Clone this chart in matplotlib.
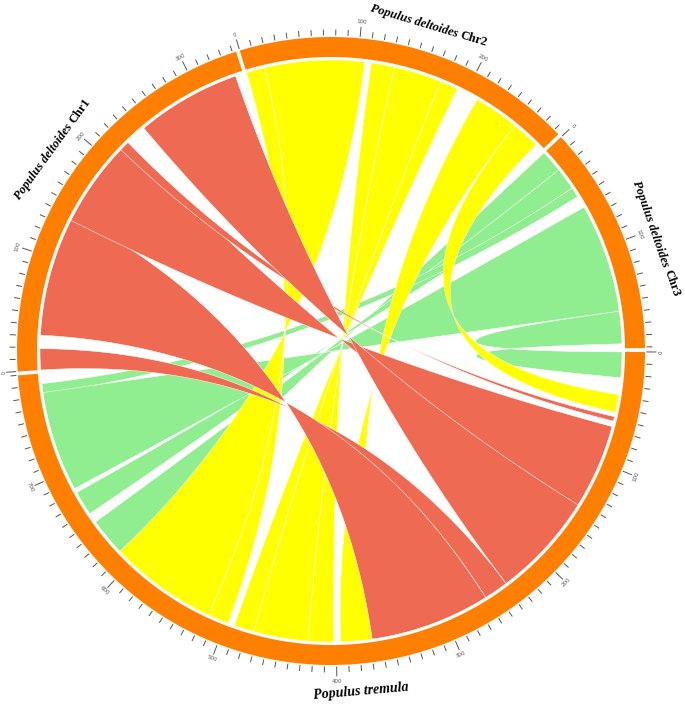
import numpy as np
import matplotlib
matplotlib.use("Agg")
import matplotlib.pyplot as plt
from matplotlib.patches import Polygon

# chromosomes, clockwise starting at the top
chrom_italic = ["Populus deltoides", "Populus deltoides", "Populus tremula", "Populus deltoides"]
chrom_suffix = ["Chr2", "Chr3", "", "Chr1"]
chrom_sizes = [285, 191, 790, 343]

# synteny links, positions on each chromosome (start, end);
# a reversed pair (end, start) on the tremula side gives an untwisted ribbon
# Chr1 -> P. tremula
red_src = [(0, 19), (31, 142), (137, 223), (214, 223), (242, 336)]
red_dst = [(238, 260), (260, 368), (67, 152), (58, 62), (143, 238)]
# Chr2 -> P. tremula
yellow_src = [(0, 17), (17, 106), (112, 133), (133, 176), (176, 192), (212, 253), (253, 278)]
yellow_dst = [(498, 517), (517, 614), (402, 425), (425, 474), (474, 492), (368, 396), (38, 54)]
# Chr3 -> P. tremula
green_src = [(0, 20), (20, 40), (40, 49), (60, 158), (158, 187)]
green_dst = [(614, 648), (657, 679), (781, 772), (683, 773), (0, 23)]

W, H = 685, 706
fig = plt.figure(figsize=(W / 100, H / 100), dpi=100)
ax = fig.add_axes([0, 0, 1, 1])
ax.set_xlim(0, W)
ax.set_ylim(H, 0)
ax.axis("off")

cx, cy = 331, 351
R_LINK, R_IN, R_OUT = 291, 294, 314
GAP = 0.7
START = -16.9
k = (360 - GAP * len(chrom_sizes)) / sum(chrom_sizes)
starts = []
a = START
for s in chrom_sizes:
    starts.append(a)
    a += s * k + GAP


def ang(ci, pos):
    return starts[ci] + pos * k


def xy(theta, r):
    t = np.radians(theta)
    return cx + r * np.sin(t), cy - r * np.cos(t)


def arc(a1, a2, r, n=60):
    th = np.linspace(a1, a2, n)
    x, y = xy(th, r)
    return np.column_stack([x, y])


def bez(a1, a2, n=80):
    p0 = np.array(xy(a1, R_LINK))
    p2 = np.array(xy(a2, R_LINK))
    c = np.array([cx, cy])
    t = np.linspace(0, 1, n)[:, None]
    return (1 - t) ** 2 * p0 + 2 * t * (1 - t) * c + t ** 2 * p2


def ribbon(ci, src, cj, dst, color):
    a1, a2 = ang(ci, src[0]), ang(ci, src[1])
    b1, b2 = ang(cj, dst[0]), ang(cj, dst[1])
    pts = np.vstack([arc(a1, a2, R_LINK), bez(a2, b2), arc(b2, b1, R_LINK), bez(b1, a1)])
    ax.add_patch(Polygon(pts, closed=True, facecolor=color, edgecolor="white", lw=0.35))


for s, d in zip(green_src, green_dst):
    ribbon(1, s, 2, d, "#90EE90")
for s, d in zip(yellow_src, yellow_dst):
    ribbon(0, s, 2, d, "#FFFF00")
for s, d in zip(red_src, red_dst):
    ribbon(3, s, 2, d, "#EE6A52")

# ideogram ring, ticks and labels
for ci, size in enumerate(chrom_sizes):
    a1, a2 = ang(ci, 0), ang(ci, size)
    ring = np.vstack([arc(a1, a2, R_OUT, 200), arc(a2, a1, R_IN, 200)])
    ax.add_patch(Polygon(ring, closed=True, facecolor="#FF7F00", edgecolor="none"))
    for p in range(0, size + 1, 10):
        th = ang(ci, p)
        major = p % 100 == 0
        x1, y1 = xy(th, R_OUT + 2)
        x2, y2 = xy(th, R_OUT + (11 if major else 7))
        ax.plot([x1, x2], [y1, y2], color="#555555", lw=0.7)
        if major:
            x, y = xy(th, R_OUT + 16)
            rot = (-th + 180) % 360 - 180
            if rot > 90:
                rot -= 180
            elif rot < -90:
                rot += 180
            ax.text(x, y, str(p), fontsize=4, rotation=rot, ha="center", va="center",
                    color="#555555")

# chromosome titles
title_angles = [16.7, 70.9, 175.0, 305.9]
title_radii = [340, 344, 342, 344]
title_sizes = [9, 9, 10, 9]
renderer = fig.canvas.get_renderer()


def text_width(s, **kw):
    t = ax.text(0, 0, s, **kw)
    w = t.get_window_extent(renderer).width
    t.remove()
    return w


for ci in range(len(chrom_sizes)):
    tkw = dict(family="Liberation Serif", fontweight="bold", fontsize=title_sizes[ci],
               color="black")
    space = text_width("a a", **tkw) - text_width("aa", **tkw)
    th = title_angles[ci]
    rot = (-th + 180) % 360 - 180
    if rot > 90:
        rot -= 180
    elif rot < -90:
        rot += 180
    w1 = text_width(chrom_italic[ci], fontstyle="italic", **tkw)
    w2 = text_width(chrom_suffix[ci], **tkw) + space if chrom_suffix[ci] else 0
    d = np.array([np.cos(np.radians(rot)), -np.sin(np.radians(rot))])
    p = np.array(xy(th, title_radii[ci])) - (w1 + w2) / 2 * d
    ax.text(p[0], p[1], chrom_italic[ci], fontstyle="italic", rotation=rot,
            rotation_mode="anchor", ha="left", va="center", **tkw)
    if chrom_suffix[ci]:
        q = p + (w1 + space) * d
        ax.text(q[0], q[1], chrom_suffix[ci], rotation=rot,
                rotation_mode="anchor", ha="left", va="center", **tkw)

fig.savefig("out.png", dpi=100)
